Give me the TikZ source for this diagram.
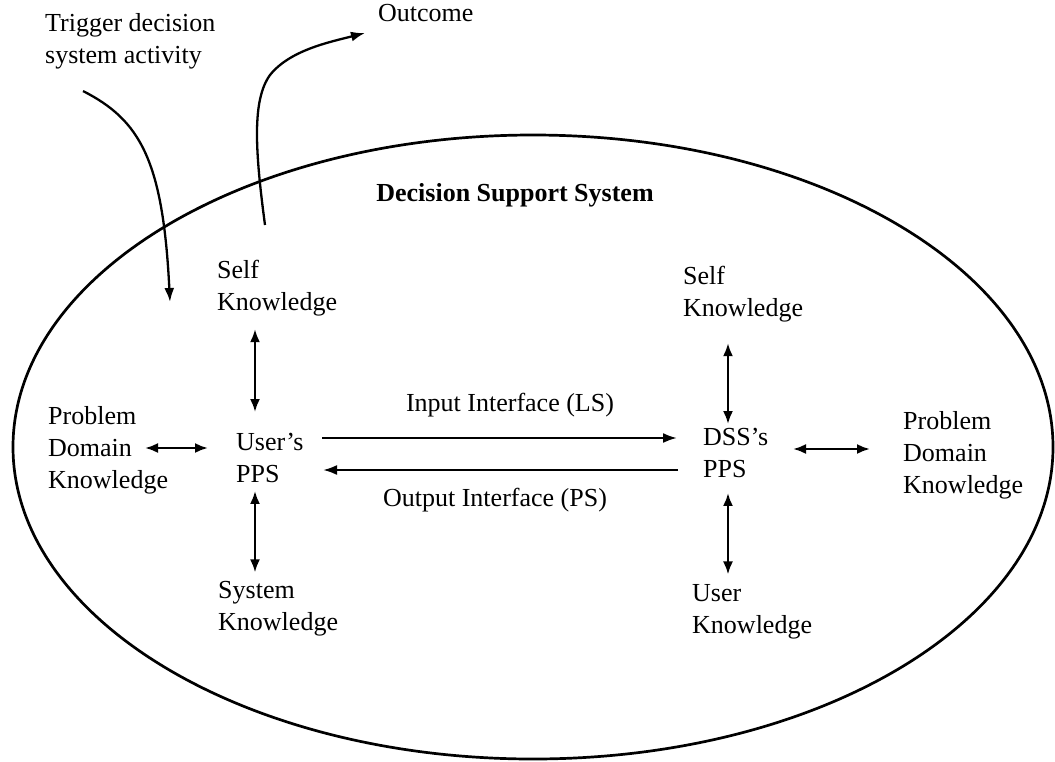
\documentclass[tikz,border=0pt]{standalone}
\usepackage{fontspec}
\setmainfont{Liberation Serif}
\usetikzlibrary{arrows.meta,calc}
\begin{document}
\begin{tikzpicture}[x=1pt,y=-1pt,
  txt/.style={inner sep=0pt, align=left, anchor=west, font=\fontsize{26}{32}\selectfont},
  ttl/.style={inner sep=0pt, font=\fontsize{26}{32}\selectfont\bfseries},
  conn/.style={line width=2.3pt, -{Latex[length=14pt,width=10pt]}},
  dbl/.style={line width=2.3pt, {Latex[length=13pt,width=10pt]}-{Latex[length=13pt,width=10pt]}},
  boundary/.style={line width=2.7pt}]
\useasboundingbox (0,0) rectangle (1055,761);

% system boundary
\draw[boundary] (533,447) ellipse [x radius=520, y radius=312];

% labels outside the system
\node[txt] (trig) at (45,41) {Trigger decision\\system activity};
\node[txt] (outc) at (378,13) {Outcome};

% title
\node[ttl] (dss) at (515,195) {Decision Support System};

% user side
\node[txt] (selfL) at (217,288) {Self\\Knowledge};
\node[txt] (usrpps) at (236,458) {User's\\PPS};
\node[txt] (pdkL) at (48,450) {Problem\\Domain\\Knowledge};
\node[txt] (sysk) at (218,609) {System\\Knowledge};

% DSS side
\node[txt] (selfR) at (683,294) {Self\\Knowledge};
\node[txt] (dsspps) at (703,453) {DSS's\\PPS};
\node[txt] (pdkR) at (903,455) {Problem\\Domain\\Knowledge};
\node[txt] (usrk) at (692,612) {User\\Knowledge};

% interface labels
\node[txt, anchor=center] (inlab) at (510,405) {Input Interface (LS)};
\node[txt, anchor=center] (outlab) at (495,500) {Output Interface (PS)};

% user-side links
\draw[dbl] ($(selfL.south west)+(38,13)$) -- ($(selfL.south west |- usrpps.north)+(38,-21)$);
\draw[dbl] ($(sysk.north west |- usrpps.south)+(37,8)$) -- ($(sysk.north west)+(37,-9)$);
\draw[dbl] ($(pdkL.west)+(97,-2)$) -- ($(usrpps.west)+(-28,-10)$);

% interfaces
\draw[conn] ($(usrpps.west)+(86,-20)$) -- ($(dsspps.west)+(-26,-15)$);
\draw[conn] ($(dsspps.west)+(-25,17)$) -- ($(usrpps.west)+(87,12)$);

% DSS-side links
\draw[dbl] ($(selfR.south west)+(45,21)$) -- ($(selfR.south west |- dsspps.north)+(45,-4)$);
\draw[dbl] ($(usrk.north west |- dsspps.south)+(36,15)$) -- ($(usrk.north west)+(36,-10)$);
\draw[dbl] ($(dsspps.west)+(90,-4)$) -- ($(pdkR.west)+(-33,-6)$);

% trigger and outcome
\coordinate (trigEnd) at (170,302);
\coordinate (outStart) at (265,225);
\draw[conn] ($(trig.south west)+(38,22)$) .. controls (140,120) and (163,160) .. (trigEnd);
\draw[conn] (outStart) .. controls (255,150) and (252,100) .. (270,75)
  .. controls (290,50) and (330,42) .. ($(outc.west)+(-13,20)$);
\end{tikzpicture}
\end{document}
